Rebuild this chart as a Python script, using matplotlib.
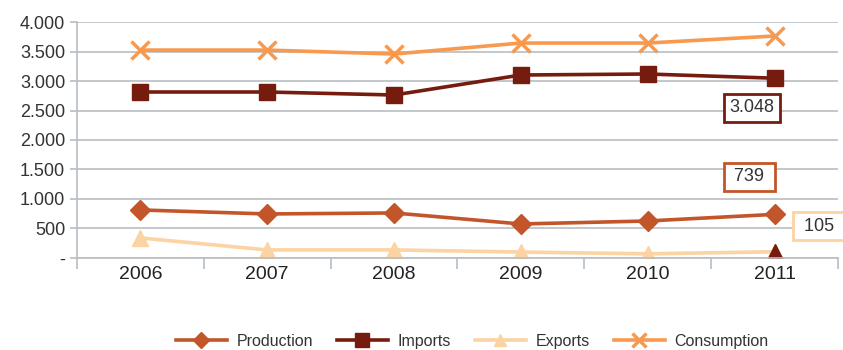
import matplotlib.pyplot as plt
from matplotlib.ticker import FuncFormatter, MultipleLocator
import numpy as np

plt.rcParams['font.family'] = ['Liberation Sans', 'DejaVu Sans']

years = ['2006', '2007', '2008', '2009', '2010', '2011']
production = [814, 746, 763, 576, 627, 739]
imports = [2814, 2814, 2763, 3102, 3119, 3048]
exports = [339, 136, 136, 100, 70, 105]
consumption = [3525, 3525, 3458, 3644, 3644, 3763]

c_prod = '#C2562A'
c_imp = '#761C0E'
c_exp = '#FCD3A2'
c_cons = '#F7994F'

x = np.arange(len(years))

fig = plt.figure(figsize=(8.43, 3.5), dpi=100)
ax = fig.add_axes([0.0913, 0.263, 0.9027, 0.674])

ax.plot(x, production, color=c_prod, lw=2.6, marker='D', ms=10, label='Production')
ax.plot(x, imports, color=c_imp, lw=2.6, marker='s', ms=12, label='Imports')
ax.plot(x, exports, color=c_exp, lw=2.6, marker='^', ms=11, label='Exports')
ax.plot(x[-1], exports[-1], color=c_imp, marker='^', ms=11, ls='none')
ax.plot(x, consumption, color=c_cons, lw=2.6, marker='x', ms=13, mew=2.5, label='Consumption')

# value boxes for the last year
def fmt(v):
    return '{:,}'.format(v).replace(',', '.')

box_style = dict(boxstyle='square,pad=0.3', fc='white', lw=2)
ax.text(x[-1] - 0.18, imports[-1] - 505, fmt(imports[-1]), ha='center', va='center',
        fontsize=13, color='#333333', bbox=dict(box_style, ec=c_imp))
ax.text(x[-1] - 0.2, production[-1] + 634, ' ' + fmt(production[-1]) + ' ', ha='center', va='center',
        fontsize=13, color='#333333', bbox=dict(box_style, ec=c_prod))
ax.text(x[-1] + 0.35, exports[-1] + 435, ' ' + fmt(exports[-1]) + ' ', ha='center', va='center',
        fontsize=13, color='#333333', bbox=dict(box_style, ec=c_exp), clip_on=False)

ax.set_xlim(-0.5, len(years) - 0.5)
ax.set_ylim(0, 4000)
ax.yaxis.set_major_locator(MultipleLocator(500))
ax.yaxis.set_major_formatter(FuncFormatter(lambda v, p: '-' if v == 0 else fmt(int(v))))
ax.grid(axis='y', color='#B8BEC4', lw=1.2)
ax.set_axisbelow(True)

ax.set_xticks(x)
ax.set_xticklabels(years)
ax.set_xticks(np.arange(-0.5, len(years)), minor=True)
ax.tick_params(axis='x', which='major', length=0, pad=6, labelsize=14, colors='#222222')
ax.tick_params(axis='x', which='minor', length=8, width=1.2, color='#B8BEC4')
ax.tick_params(axis='y', length=5, width=1.2, color='#B8BEC4', labelsize=13, labelcolor='#333333')

for side in ['top', 'right']:
    ax.spines[side].set_visible(False)
for side in ['left', 'bottom']:
    ax.spines[side].set_color('#B8BEC4')
    ax.spines[side].set_linewidth(1.2)

fig.legend(loc='center', bbox_to_anchor=(0.56, 0.025), ncol=4, frameon=False,
           fontsize=11.5, handlelength=3.2, columnspacing=1.5, handletextpad=0.6,
           markerscale=0.8, labelcolor='#333333')

fig.savefig('out.png', dpi=100)
